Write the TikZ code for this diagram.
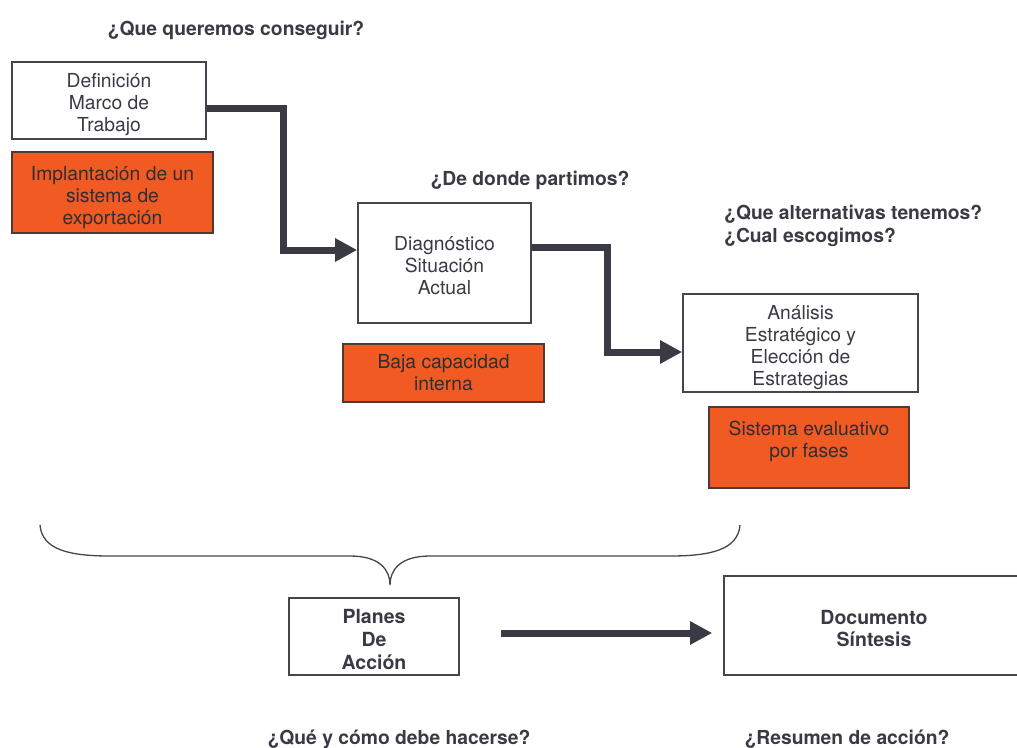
\documentclass[tikz,border=0pt]{standalone}
\usepackage{fontspec}
\setmainfont{TeX Gyre Heros}
\usetikzlibrary{arrows.meta}
\definecolor{ink}{HTML}{3A3A44}
\definecolor{frame}{HTML}{45454D}
\definecolor{naranja}{HTML}{F15A22}
\definecolor{naranjaline}{HTML}{4E3A32}

\begin{document}
\begin{tikzpicture}[x=1pt, y=-1pt,
  box/.style={draw=frame, line width=1.6pt, fill=white, align=center,
              text=ink, font=\fontsize{19.3}{22}\selectfont, inner sep=0pt},
  tarea/.style={draw=naranjaline, line width=1.4pt, fill=naranja, align=center,
                text=ink!80!black, font=\fontsize{19.3}{22}\selectfont, inner sep=0pt},
  pregunta/.style={text=ink, font=\fontsize{19.3}{23.5}\selectfont\bfseries, inner sep=0pt},
  a/.style={-{Triangle[length=22pt, width=22pt]}, draw=ink, line width=7pt}]
  \useasboundingbox (0,0) rectangle (1017,747);
  \clip (0,0) rectangle (1017,747);
  % preguntas
  \node[pregunta] (q1) at (236,30) {¿Que queremos conseguir?};
  \node[pregunta] (q2) at (530,180) {¿De donde partimos?};
  \node[pregunta, anchor=west, align=left] (q3) at (724,226) {¿Que alternativas tenemos?\\¿Cual escogimos?};
  \node[pregunta] (q4) at (399,739) {¿Qué y cómo debe hacerse?};
  \node[pregunta] (q5) at (847,739) {¿Resumen de acción?};
  % cajas
  \node[box, text height=66pt, minimum width=194, minimum height=77] (marco) at (109,100.5) {Definición\\Marco de\\Trabajo};
  \node[tarea, text height=68pt, minimum width=201, minimum height=81] (implanta) at (112.5,192.5) {Implantación de un\\sistema de\\exportación};
  \node[box, text height=64pt, minimum width=173, minimum height=120] (diag) at (444.5,263) {Diagnóstico\\Situación\\Actual};
  \node[tarea, minimum width=201, minimum height=58] (baja) at (443.5,373) {Baja capacidad\\interna};
  \node[box, text height=89pt, minimum width=235, minimum height=98] (analisis) at (800.5,343) {Análisis\\Estratégico y\\Elección de\\Estrategias};
  \node[tarea, minimum width=200, minimum height=81] (sistema) at (809,447.5) {};
  \node[text=ink!80!black, font=\fontsize{19.3}{22}\selectfont, align=center, inner sep=0pt] (sistematxt) at (809,441) {Sistema evaluativo\\por fases};
  \node[box, text height=67pt, minimum width=170, minimum height=77, font=\fontsize{19.5}{23}\selectfont\bfseries] (planes) at (374,636.5) {Planes\\De\\Acción};
  \node[box, text height=42pt, minimum width=300, minimum height=99, font=\fontsize{19.5}{22}\selectfont\bfseries] (doc) at (874,625.5) {Documento\\Síntesis};
  % flechas
  \draw[a] ([yshift=-7.5pt]marco.east) -- ++(77,0) |- ([yshift=13pt]diag.west);
  \draw[a] ([yshift=16pt]diag.east) -- ++(76,0) |- ([yshift=-9pt]analisis.west);
  \draw[a] ([xshift=41pt,yshift=3.5pt]planes.east) -- ([xshift=-11pt,yshift=-7.5pt]doc.west);
  % llave
  \draw[frame, line width=1.3pt] (40,525) .. controls (42,550) and (70,556) .. (110,556) -- (350,556)
    .. controls (380,556) and (390,570) .. (390,585)
    .. controls (390,570) and (400,556) .. (430,556) -- (670,556)
    .. controls (710,556) and (738,550) .. (740,525);
\end{tikzpicture}
\end{document}
